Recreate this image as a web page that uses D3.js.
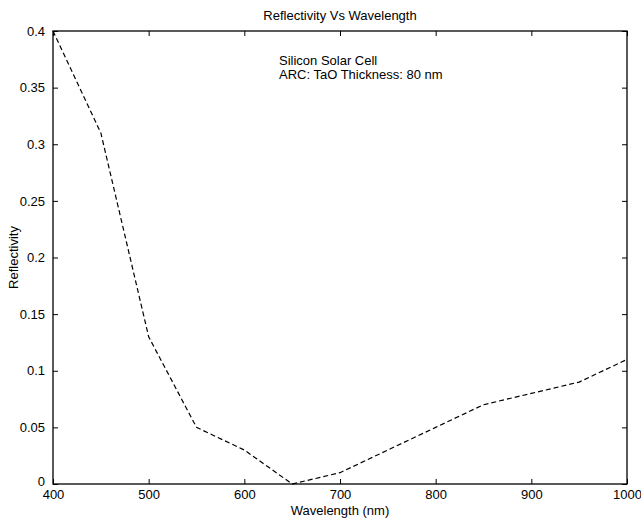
<!DOCTYPE html>
<html><head><meta charset="utf-8">
<script src="https://cdn.jsdelivr.net/npm/d3@7"></script>
<style>body{margin:0;background:#fff}svg{display:block}text{font-family:"Liberation Sans",Arial,sans-serif;font-size:13px;fill:#000}</style>
</head><body>
<script>
const wavelengths = [400,450,500,550,600,650,700,750,800,850,900,950,1000];
const reflectivity = [0.4,0.31,0.13,0.05,0.03,0.0,0.01,0.03,0.05,0.07,0.08,0.09,0.11];
const xTicks = [400,500,600,700,800,900,1000];
const yTicks = [0,0.05,0.1,0.15,0.2,0.25,0.3,0.35,0.4];
const titleText = "Reflectivity Vs Wavelength";
const xLabel = "Wavelength (nm)";
const yLabel = "Reflectivity";
const annotations = ["Silicon Solar Cell","ARC: TaO Thickness: 80 nm"];

const W=641,H=519, L=53, R=627, T=31, B=484;
const svg=d3.select("body").append("svg").attr("width",W).attr("height",H);
const x=d3.scaleLinear().domain([400,1000]).range([L,R]);
const y=d3.scaleLinear().domain([0,0.4]).range([B,T]);

const ax=g=>g.selectAll(".domain").remove();
svg.append("g").attr("transform",`translate(0,${B})`)
 .call(d3.axisBottom(x).tickValues(xTicks).tickSizeInner(-5).tickSizeOuter(0).tickPadding(6).tickFormat(d3.format("d")))
 .call(ax);
svg.append("g").attr("transform",`translate(0,${T})`)
 .call(d3.axisTop(x).tickValues(xTicks).tickSizeInner(-5).tickSizeOuter(0).tickFormat(""))
 .call(ax);
const yAxis=svg.append("g").attr("transform",`translate(${L},0)`)
 .call(d3.axisLeft(y).tickValues(yTicks).tickSizeInner(-5).tickSizeOuter(0).tickPadding(8).tickFormat(d=>d3.format("")(+d.toFixed(2))))
 .call(ax);
yAxis.selectAll(".tick text").filter(d=>d===0).attr("dy","0.1em");
svg.append("g").attr("transform",`translate(${R},0)`)
 .call(d3.axisRight(y).tickValues(yTicks).tickSizeInner(-5).tickSizeOuter(0).tickFormat(""))
 .call(ax);
svg.selectAll(".tick line").attr("stroke","#000").attr("stroke-width",1);
svg.selectAll(".tick text").style("font-size","13px").attr("fill","#000");
svg.append("rect").attr("x",L).attr("y",T).attr("width",R-L).attr("height",B-T)
 .attr("fill","none").attr("stroke","#000").attr("stroke-width",1.3);

const line=d3.line().x((d,i)=>x(wavelengths[i])).y(d=>y(d));
svg.append("path").datum(reflectivity).attr("d",line).attr("fill","none")
 .attr("stroke","#000").attr("stroke-width",1.2).attr("stroke-dasharray","5,3");

svg.append("text").attr("x",(L+R)/2).attr("y",20).attr("text-anchor","middle").text(titleText);
svg.append("text").attr("x",(L+R)/2).attr("y",515).attr("text-anchor","middle").text(xLabel);
svg.append("text").attr("transform",`translate(18,${(T+B)/2}) rotate(-90)`).attr("text-anchor","middle").text(yLabel);
annotations.forEach((t,i)=>svg.append("text").attr("x",279).attr("y",65+i*14).text(t));
</script>
</body></html>
